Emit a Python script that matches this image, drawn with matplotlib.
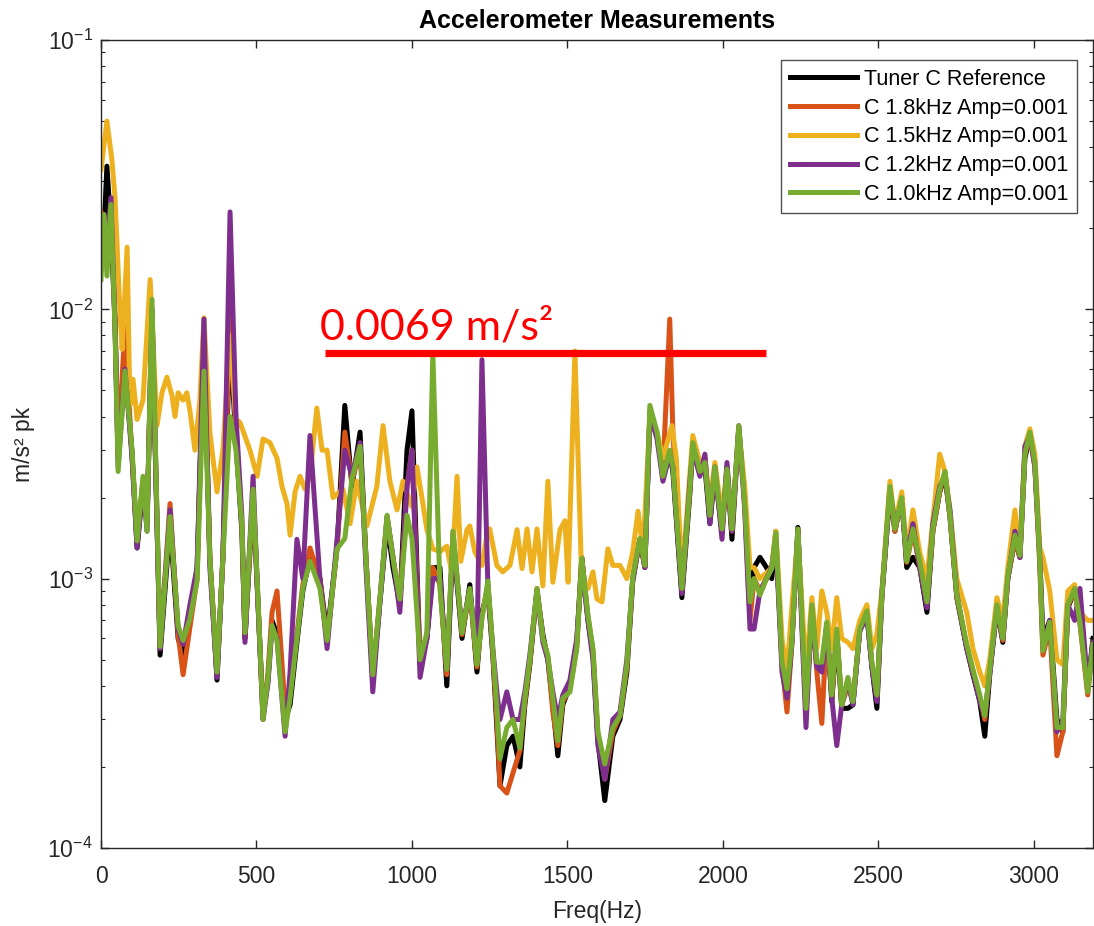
import matplotlib
matplotlib.use("Agg")
import matplotlib.pyplot as plt
from matplotlib.ticker import LogLocator, NullFormatter

plt.rcParams['font.family'] = ['Liberation Sans', 'DejaVu Sans']
plt.rcParams['mathtext.default'] = 'regular'

# Shared frequency grid (Hz) for the reference and three tuned runs
freq_hz = [0, 10, 19, 32, 45, 55, 77, 100, 116, 135, 148, 164, 190, 222, 248, 264, 286, 309, 331, 350,
           373, 392, 415, 434, 453, 463, 489, 505, 521, 537, 550, 566, 592, 608, 630, 649, 672, 704, 727, 759,
           784, 807, 833, 852, 874, 897, 920, 939, 961, 984, 1000, 1026, 1048, 1067, 1090, 1112, 1132, 1161, 1186, 1209,
           1225, 1244, 1260, 1273, 1283, 1305, 1325, 1347, 1363, 1379, 1402, 1421, 1437, 1453, 1469, 1485, 1508, 1530, 1546, 1566,
           1582, 1598, 1620, 1646, 1669, 1691, 1710, 1733, 1749, 1765, 1788, 1807, 1829, 1839, 1868, 1894, 1903, 1926, 1942, 1958,
           1974, 1997, 2013, 2029, 2051, 2070, 2087, 2100, 2119, 2140, 2157, 2170, 2190, 2206, 2222, 2241, 2267, 2286, 2302, 2318,
           2334, 2350, 2366, 2382, 2402, 2418, 2440, 2463, 2479, 2495, 2511, 2537, 2553, 2575, 2591, 2611, 2633, 2656, 2675, 2697,
           2714, 2730, 2752, 2784, 2804, 2826, 2842, 2858, 2881, 2900, 2916, 2939, 2955, 2971, 2987, 3003, 3019, 3029, 3051, 3074,
           3093, 3109, 3131, 3148, 3173, 3190]

ref_c = [0.018, 0.020, 0.034, 0.020, 0.0090, 0.0028, 0.0062, 0.0029, 0.0013, 0.0022, 0.0016, 0.0095, 0.00052, 0.0016, 0.00060, 0.00052, 0.00068, 0.0011, 0.0075, 0.0012,
         0.00042, 0.0012, 0.0080, 0.0032, 0.0015, 0.00060, 0.0020, 0.00080, 0.00032, 0.00042, 0.00070, 0.00062, 0.00030, 0.00034, 0.00058, 0.00090, 0.0012, 0.0010, 0.00062, 0.0013,
         0.0044, 0.0022, 0.0035, 0.0012, 0.00042, 0.00082, 0.0016, 0.0011, 0.00080, 0.0030, 0.0042, 0.00048, 0.00060, 0.0011, 0.0011, 0.00040, 0.0014, 0.00060, 0.00095, 0.00045,
         0.00075, 0.00090, 0.00052, 0.00028, 0.00017, 0.00024, 0.00026, 0.00020, 0.00034, 0.00048, 0.00090, 0.00062, 0.00050, 0.00034, 0.00022, 0.00034, 0.00040, 0.00058, 0.0012, 0.00070,
         0.00052, 0.00025, 0.00015, 0.00026, 0.00030, 0.00045, 0.00098, 0.0014, 0.0011, 0.0040, 0.0034, 0.0027, 0.0029, 0.0025, 0.00085, 0.0021, 0.0031, 0.0026, 0.0026, 0.0016,
         0.0025, 0.0015, 0.0026, 0.0014, 0.0036, 0.0020, 0.00080, 0.0011, 0.0012, 0.0011, 0.0010, 0.0014, 0.00050, 0.00036, 0.00060, 0.00155, 0.00032, 0.00078, 0.00047, 0.00046,
         0.00068, 0.00035, 0.00062, 0.00033, 0.00033, 0.00034, 0.00064, 0.00074, 0.00047, 0.00033, 0.00085, 0.0021, 0.0015, 0.0020, 0.0011, 0.0012, 0.0011, 0.00075, 0.0015, 0.0021,
         0.0024, 0.0017, 0.00085, 0.00055, 0.00044, 0.00035, 0.00026, 0.00044, 0.00078, 0.00058, 0.0010, 0.0014, 0.0012, 0.0028, 0.0034, 0.0027, 0.0012, 0.00060, 0.00070, 0.00030,
         0.00027, 0.00078, 0.00090, 0.00072, 0.00040, 0.00060]

c_18k = [0.023, 0.021, 0.020, 0.023, 0.0095, 0.0030, 0.0086, 0.0028, 0.0014, 0.0023, 0.0016, 0.0100, 0.00055, 0.0019, 0.00062, 0.00044, 0.00066, 0.0010, 0.0085, 0.0012,
         0.00044, 0.0012, 0.0095, 0.0034, 0.0016, 0.00060, 0.0021, 0.00082, 0.00030, 0.00045, 0.00075, 0.00090, 0.00033, 0.00040, 0.00062, 0.00095, 0.0013, 0.0010, 0.00058, 0.0013,
         0.0035, 0.0023, 0.0030, 0.0012, 0.00043, 0.00085, 0.0017, 0.0012, 0.00082, 0.0022, 0.0030, 0.00050, 0.00062, 0.0011, 0.00095, 0.00044, 0.0015, 0.00062, 0.00090, 0.00047,
         0.00072, 0.00095, 0.00053, 0.00030, 0.00017, 0.00016, 0.00019, 0.00023, 0.00035, 0.00049, 0.00092, 0.00060, 0.00051, 0.00032, 0.00024, 0.00035, 0.00039, 0.00056, 0.0012, 0.00072,
         0.00054, 0.00026, 0.00018, 0.00027, 0.00031, 0.00047, 0.0010, 0.0014, 0.0011, 0.0042, 0.0034, 0.0025, 0.0092, 0.0035, 0.00090, 0.0022, 0.0031, 0.0025, 0.0028, 0.0017,
         0.0026, 0.0015, 0.0025, 0.0015, 0.0036, 0.0019, 0.00070, 0.0010, 0.0009, 0.0010, 0.0011, 0.0015, 0.00048, 0.00032, 0.00058, 0.0015, 0.00034, 0.00080, 0.00045, 0.00029,
         0.00068, 0.00036, 0.00064, 0.00034, 0.00040, 0.00035, 0.00065, 0.00075, 0.00048, 0.00036, 0.00086, 0.0022, 0.0015, 0.0020, 0.00115, 0.0015, 0.0011, 0.00080, 0.0015, 0.0021,
         0.0025, 0.0017, 0.00086, 0.00056, 0.00045, 0.00036, 0.00030, 0.00045, 0.00079, 0.00059, 0.0010, 0.0014, 0.0012, 0.0029, 0.0034, 0.0026, 0.0011, 0.00052, 0.00066, 0.00022,
         0.00027, 0.00079, 0.00091, 0.00068, 0.00037, 0.00058]

c_12k = [0.016, 0.021, 0.017, 0.026, 0.0088, 0.0026, 0.0060, 0.0028, 0.0013, 0.0023, 0.0015, 0.0100, 0.00055, 0.0018, 0.00065, 0.00057, 0.00080, 0.0011, 0.0092, 0.0011,
         0.00043, 0.0012, 0.023, 0.0040, 0.0017, 0.00058, 0.0024, 0.00080, 0.00030, 0.00041, 0.00066, 0.00060, 0.00026, 0.00045, 0.0014, 0.0010, 0.0034, 0.0010, 0.00055, 0.0014,
         0.0030, 0.0024, 0.0032, 0.0011, 0.00038, 0.00082, 0.0017, 0.0012, 0.00075, 0.0022, 0.0030, 0.00043, 0.00060, 0.0010, 0.0010, 0.00046, 0.0014, 0.00065, 0.00090, 0.00055,
         0.0065, 0.00095, 0.00055, 0.00038, 0.00030, 0.00038, 0.00030, 0.00030, 0.00038, 0.00052, 0.00090, 0.00058, 0.00050, 0.00038, 0.00030, 0.00037, 0.00042, 0.00060, 0.0011, 0.00070,
         0.00050, 0.00024, 0.00018, 0.00030, 0.00032, 0.00050, 0.0010, 0.0014, 0.0011, 0.0041, 0.0033, 0.0023, 0.0029, 0.0026, 0.00088, 0.0023, 0.0030, 0.0024, 0.0029, 0.0016,
         0.0026, 0.0014, 0.0027, 0.0015, 0.0037, 0.0018, 0.00065, 0.00065, 0.0009, 0.0010, 0.0011, 0.0014, 0.00045, 0.00036, 0.00058, 0.0015, 0.00028, 0.00078, 0.00047, 0.00045,
         0.00065, 0.00036, 0.00024, 0.00034, 0.00042, 0.00034, 0.00064, 0.00073, 0.00047, 0.00035, 0.00088, 0.0021, 0.0016, 0.0019, 0.0012, 0.0016, 0.0011, 0.00078, 0.0016, 0.0022,
         0.0024, 0.0018, 0.00088, 0.00055, 0.00045, 0.00035, 0.00031, 0.00045, 0.00078, 0.00060, 0.0010, 0.0015, 0.0012, 0.0031, 0.0034, 0.0026, 0.0012, 0.00055, 0.00070, 0.00027,
         0.00030, 0.00080, 0.00070, 0.00092, 0.00040, 0.00058]

c_10k = [0.0129, 0.0225, 0.0133, 0.0245, 0.0084, 0.0025, 0.0059, 0.0030, 0.00138, 0.0024, 0.0015, 0.0109, 0.00056, 0.0017, 0.00067, 0.00059, 0.00071, 0.00098, 0.0059, 0.00119,
         0.00045, 0.00119, 0.0040, 0.0030, 0.0016, 0.00063, 0.00215, 0.00084, 0.00030, 0.00043, 0.00067, 0.00059, 0.00027, 0.00036, 0.00060, 0.00092, 0.00116, 0.00092, 0.00059, 0.00129,
         0.00141, 0.00235, 0.0031, 0.00119, 0.00044, 0.00084, 0.00172, 0.00119, 0.00084, 0.00172, 0.00141, 0.00050, 0.00063, 0.0069, 0.00092, 0.00046, 0.0015, 0.00063, 0.00092, 0.00048,
         0.00071, 0.00098, 0.00055, 0.00033, 0.000215, 0.00028, 0.00030, 0.000235, 0.00036, 0.00050, 0.00092, 0.00060, 0.00052, 0.00036, 0.00025, 0.00036, 0.00038, 0.00055, 0.00119, 0.00073,
         0.00055, 0.00027, 0.000205, 0.00028, 0.00031, 0.00048, 0.00102, 0.00141, 0.00112, 0.0044, 0.0035, 0.0024, 0.0030, 0.0026, 0.00092, 0.0022, 0.0032, 0.0025, 0.0027, 0.00172,
         0.0026, 0.00153, 0.00255, 0.00153, 0.0037, 0.0019, 0.00082, 0.0010, 0.00087, 0.0010, 0.00109, 0.00148, 0.00049, 0.00039, 0.00059, 0.00153, 0.00033, 0.00080, 0.00049, 0.00049,
         0.00069, 0.00037, 0.00065, 0.00034, 0.00043, 0.00035, 0.00065, 0.00076, 0.00049, 0.00037, 0.00087, 0.0022, 0.00153, 0.0020, 0.00116, 0.00153, 0.00116, 0.00082, 0.00153, 0.00215,
         0.0025, 0.00172, 0.00087, 0.00057, 0.00046, 0.00037, 0.00031, 0.00046, 0.00080, 0.00060, 0.00102, 0.00145, 0.00122, 0.0029, 0.0035, 0.0027, 0.00116, 0.00054, 0.00069, 0.00028,
         0.00028, 0.00080, 0.00092, 0.00069, 0.00038, 0.00057]

# The 1.5 kHz run has its own, denser grid
freq_15k = [0, 19, 35, 45, 61, 68, 84, 93, 103, 116, 135, 158, 180, 196, 212, 228, 238, 248, 264, 276,
            286, 302, 318, 331, 350, 373, 392, 415, 434, 447, 479, 502, 521, 543, 566, 582, 598, 608, 624, 640,
            656, 672, 694, 711, 727, 746, 778, 801, 823, 855, 887, 907, 929, 952, 971, 1000, 1016, 1032, 1048, 1067,
            1090, 1112, 1128, 1145, 1157, 1177, 1186, 1202, 1225, 1244, 1250, 1273, 1292, 1315, 1338, 1354, 1370, 1386, 1402, 1421,
            1437, 1453, 1476, 1492, 1502, 1524, 1546, 1566, 1582, 1595, 1611, 1630, 1646, 1669, 1691, 1710, 1727, 1743, 1765, 1788,
            1807, 1836, 1850, 1868, 1894, 1903, 1926, 1942, 1958, 1974, 1997, 2013, 2029, 2051, 2070, 2087, 2100, 2119, 2140, 2157,
            2170, 2190, 2206, 2222, 2241, 2267, 2286, 2302, 2318, 2334, 2350, 2366, 2382, 2402, 2418, 2440, 2463, 2479, 2495, 2511,
            2537, 2553, 2575, 2591, 2611, 2633, 2656, 2675, 2697, 2714, 2730, 2752, 2784, 2804, 2826, 2842, 2858, 2881, 2900, 2916,
            2939, 2955, 2971, 2987, 3003, 3019, 3029, 3051, 3074, 3093, 3109, 3131, 3148, 3173, 3190]

c_15k = [0.033, 0.050, 0.036, 0.026, 0.0098, 0.0071, 0.017, 0.0044, 0.0055, 0.0039, 0.0046, 0.0129, 0.0037, 0.0049, 0.0056, 0.0048, 0.0040, 0.0049, 0.0046, 0.0049,
         0.0042, 0.0030, 0.0046, 0.0093, 0.0035, 0.0021, 0.0030, 0.0080, 0.0039, 0.0038, 0.0030, 0.0024, 0.0033, 0.0032, 0.0028, 0.0022, 0.0019, 0.00145, 0.0021, 0.0024,
         0.00215, 0.0024, 0.0043, 0.0030, 0.0030, 0.0020, 0.00215, 0.0016, 0.0023, 0.00157, 0.0022, 0.0037, 0.0023, 0.0018, 0.0023, 0.00185, 0.0026, 0.0020, 0.00152, 0.00129,
         0.00126, 0.00132, 0.00105, 0.0024, 0.00116, 0.00152, 0.00157, 0.00126, 0.00112, 0.00152, 0.00153, 0.00112, 0.00106, 0.00112, 0.00152, 0.00109, 0.00153, 0.00106, 0.00153, 0.00094,
         0.0023, 0.00097, 0.00152, 0.00164, 0.00097, 0.0070, 0.00097, 0.00092, 0.00106, 0.00084, 0.00082, 0.00129, 0.00112, 0.00112, 0.00100, 0.00126, 0.00178, 0.00126, 0.0040, 0.0035,
         0.0028, 0.0037, 0.0028, 0.0010, 0.0025, 0.0034, 0.0027, 0.0028, 0.0019, 0.0027, 0.0017, 0.0026, 0.0016, 0.0036, 0.0022, 0.00110, 0.0011, 0.0010, 0.00105, 0.0011,
         0.0015, 0.00060, 0.00045, 0.00080, 0.00145, 0.00045, 0.00085, 0.00055, 0.00090, 0.00075, 0.00055, 0.00085, 0.00060, 0.00058, 0.00055, 0.00070, 0.00080, 0.00055, 0.00062, 0.00090,
         0.0023, 0.0016, 0.0021, 0.00125, 0.0018, 0.00125, 0.0010, 0.00165, 0.0029, 0.0025, 0.0018, 0.0010, 0.00075, 0.00055, 0.00045, 0.00040, 0.00050, 0.00085, 0.00070, 0.0011,
         0.0018, 0.00125, 0.0031, 0.0036, 0.0029, 0.0013, 0.0012, 0.00090, 0.00050, 0.00048, 0.00090, 0.00095, 0.00075, 0.00070, 0.00070]

series_labels = ['Tuner C Reference', 'C 1.8kHz Amp=0.001', 'C 1.5kHz Amp=0.001',
                 'C 1.2kHz Amp=0.001', 'C 1.0kHz Amp=0.001']
series_colors = ['#000000', '#D95319', '#EDB120', '#7E2F8E', '#77AC30']

# Highlighted level for the tuned peaks
marker_level = 0.0069
marker_span = [720, 2138]

fig = plt.figure(figsize=(10.94, 9.26), dpi=100)
ax = fig.add_axes([101 / 1094, 78 / 926, 992 / 1094, 808 / 926])

series = [(freq_hz, ref_c), (freq_hz, c_18k), (freq_15k, c_15k), (freq_hz, c_12k), (freq_hz, c_10k)]
for (f, v), lab, col in zip(series, series_labels, series_colors):
    ax.plot(f, v, color=col, lw=3.6, label=lab, solid_joinstyle='round')

ax.set_yscale('log')
ax.set_xlim(0, 3190)
ax.set_ylim(1e-4, 1e-1)
ax.set_xticks([0, 500, 1000, 1500, 2000, 2500, 3000])
ax.yaxis.set_minor_locator(LogLocator(base=10, subs=range(2, 10), numticks=20))
ax.yaxis.set_minor_formatter(NullFormatter())

axis_col = '#262626'
for s in ax.spines.values():
    s.set_color(axis_col)
    s.set_linewidth(1.0)
ax.tick_params(which='both', direction='in', top=True, right=True, colors=axis_col,
               labelsize=16.5, labelcolor=axis_col)
ax.tick_params(which='major', length=6, width=1.0)
ax.tick_params(which='minor', length=3, width=0.8)
ax.tick_params(axis='x', pad=12)
ax.tick_params(axis='y', pad=6)

ax.set_title('Accelerometer Measurements', fontsize=18, fontweight='bold', color='#000000', pad=9)
ax.set_xlabel('Freq(Hz)', fontsize=16.5, color=axis_col, labelpad=9)
ax.set_ylabel('m/s² pk', fontsize=16.5, color=axis_col, labelpad=9)

leg = ax.legend(loc='upper right', bbox_to_anchor=(0.984, 0.975), borderaxespad=0,
                fontsize=15.5, frameon=True, fancybox=False, handlelength=3.1,
                handletextpad=0.35, labelspacing=0.36, borderpad=0.4)
leg.get_frame().set_edgecolor(axis_col)
leg.get_frame().set_linewidth(1.0)
for line in leg.get_lines():
    line.set_linewidth(3.6)

ax.plot(marker_span, [marker_level, marker_level], color='#FF0000', lw=5.2, solid_capstyle='butt')
ax.text(marker_span[0] - 16, 0.00774, f'{marker_level} m/s²', color='#FF0000', fontsize=31,
        family=['Lato', 'DejaVu Sans'], va='baseline', ha='left')

fig.savefig('out.png', dpi=100)
